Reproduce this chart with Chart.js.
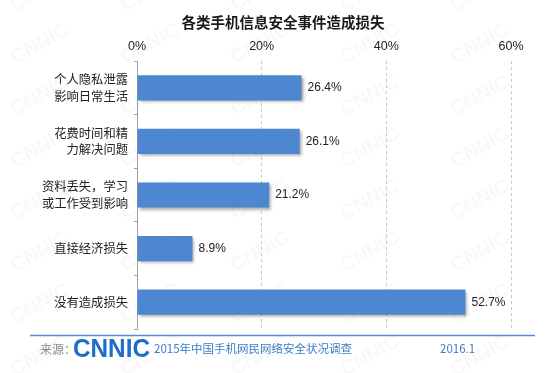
<!DOCTYPE html>
<html>
<head>
<meta charset="utf-8">
<script src="https://cdn.jsdelivr.net/npm/chart.js@4/dist/chart.umd.min.js"></script>
<style>
  html, body { margin: 0; padding: 0; background: #fff; }
  #wrap { width: 550px; height: 373px; position: relative; }
</style>
</head>
<body>
<div id="wrap"><canvas id="c"></canvas></div>
<script>
// data
const categories = [
    ['个人隐私泄露', '影响日常生活'],
    ['花费时间和精', '力解决问题'],
    ['资料丢失，学习', '或工作受到影响'],
    '直接经济损失',
    '没有造成损失'
];
const losses = [26.4, 26.1, 21.2, 8.9, 52.7];
const xTicks = [0, 20, 40, 60];

const titleText = '各类手机信息安全事件造成损失';
const sourceText = '2015年中国手机网民网络安全状况调查';
const dateText = '2016.1';

const cjk = '"Noto Sans CJK SC", "Noto Sans", sans-serif';
const latin = '"Liberation Sans", Arial, sans-serif';

// faint CNNIC watermark, title and footer
const decor = {
    id: 'decor',
    beforeDraw(chart) {
        const ctx = chart.ctx;
        ctx.save();
        ctx.fillStyle = 'rgba(0,0,0,0.028)';
        ctx.font = 'bold 20px ' + latin;
        for (let y = -40; y < 420; y += 52) {
            for (let x = -40; x < 600; x += 110) {
                ctx.save();
                ctx.translate(x + (y % 104 === 0 ? 0 : 55), y);
                ctx.rotate(-0.5);
                ctx.fillText('CNNIC', 0, 0);
                ctx.restore();
            }
        }
        ctx.restore();
    },
    afterDraw(chart) {
        const ctx = chart.ctx;
        ctx.save();
        ctx.textBaseline = 'middle';
        ctx.fillStyle = '#1a1a1a';
        ctx.textAlign = 'center';
        ctx.font = 'bold 14.5px ' + cjk;
        ctx.fillText(titleText, 283, 22);

        ctx.strokeStyle = '#4f8fd6';
        ctx.lineWidth = 1.5;
        ctx.beginPath();
        ctx.moveTo(30, 335.5);
        ctx.lineTo(535, 335.5);
        ctx.stroke();

        ctx.textAlign = 'left';
        ctx.fillStyle = '#8a8a8a';
        ctx.font = '12px ' + cjk;
        ctx.fillText('来源：', 40, 349);

        // logo text squeezed into its box
        ctx.save();
        ctx.fillStyle = '#1b6fc8';
        ctx.font = 'bold 24px ' + latin;
        const w = ctx.measureText('CNNIC').width;
        ctx.translate(73, 349);
        ctx.scale(77 / w, 1.05);
        ctx.fillText('CNNIC', 0, 1);
        ctx.restore();

        ctx.fillStyle = '#3a7dc6';
        ctx.font = '11.5px ' + cjk;
        ctx.fillText(sourceText, 154, 349);
        ctx.fillText(dateText, 440, 349);
        ctx.restore();
    }
};

// percentage labels at the bar ends
const valueLabels = {
    id: 'valueLabels',
    afterDatasetsDraw(chart) {
        const ctx = chart.ctx;
        const meta = chart.getDatasetMeta(0);
        ctx.save();
        ctx.fillStyle = '#222';
        ctx.font = '12px ' + latin;
        ctx.textBaseline = 'middle';
        meta.data.forEach((bar, i) => {
            ctx.fillText(losses[i].toFixed(1) + '%', bar.x + 6, bar.y);
        });
        ctx.restore();
    }
};

// soft shadow under bars
const barShadow = {
    id: 'barShadow',
    beforeDatasetsDraw(chart) {
        const ctx = chart.ctx;
        ctx.save();
        ctx.shadowColor = 'rgba(0,0,0,0.35)';
        ctx.shadowBlur = 3;
        ctx.shadowOffsetX = 2;
        ctx.shadowOffsetY = 2;
    },
    afterDatasetsDraw(chart) {
        chart.ctx.restore();
    }
};

new Chart(document.getElementById('c'), {
    type: 'bar',
    data: {
        labels: categories,
        datasets: [{
            data: losses,
            backgroundColor: '#4d87d2',
            barPercentage: 0.47,
            categoryPercentage: 1
        }]
    },
    options: {
        indexAxis: 'y',
        responsive: true,
        maintainAspectRatio: false,
        animation: false,
        layout: { padding: { top: 41, right: 39, bottom: 44, left: 0 } },
        plugins: {
            legend: { display: false },
            tooltip: { enabled: false }
        },
        scales: {
            x: {
                position: 'top',
                min: 0,
                max: 60,
                afterBuildTicks(scale) {
                    scale.ticks = xTicks.map(v => ({ value: v }));
                },
                afterFit(scale) { scale.height = 20; },
                ticks: {
                    padding: 7,
                    color: '#222',
                    font: { family: latin, size: 12.5 },
                    callback: v => v + '%'
                },
                grid: { color: '#c8c8c8', drawTicks: false },
                border: { display: false, dash: [3, 3] }
            },
            y: {
                afterFit(scale) { scale.width = 137; },
                ticks: {
                    padding: 6,
                    color: '#222',
                    font: { family: cjk, size: 12.3, lineHeight: 1.35 }
                },
                grid: { offset: true, drawOnChartArea: false, tickLength: 3, color: '#a0a0a0' },
                border: { display: true, color: '#a0a0a0', width: 1 }
            }
        }
    },
    plugins: [decor, barShadow, valueLabels]
});
</script>
</body>
</html>
